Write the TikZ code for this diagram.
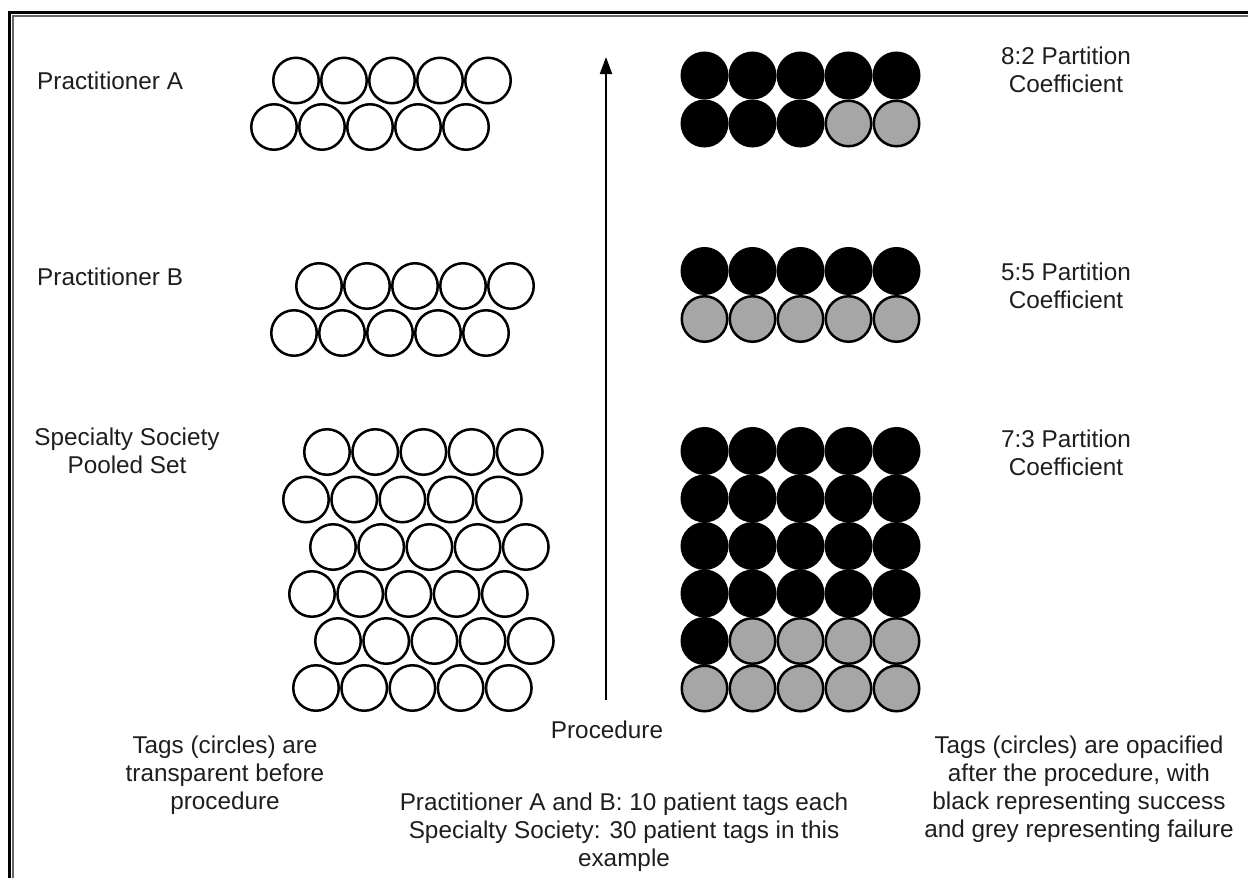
\documentclass[tikz,border=0pt]{standalone}
\usepackage{fontspec}
\setmainfont{Liberation Sans}
\usetikzlibrary{arrows.meta}
\definecolor{failgrey}{HTML}{A6A6A6}
\definecolor{inkgrey}{HTML}{1E1E1E}
\begin{document}
\begin{tikzpicture}[x=1pt,y=-1pt,
  tag/.style={circle,draw=black,line width=2.5pt,minimum size=45.5pt,inner sep=0pt,fill=white},
  succ/.style={tag,fill=black},
  fail/.style={tag,fill=failgrey},
  lbl/.style={font=\fontsize{24.3}{28}\selectfont,text=inkgrey,align=center,inner sep=0pt,anchor=base},
  lblleft/.style={lbl,anchor=base west}
]
\fill[white] (0,0) rectangle (1248,878);
\useasboundingbox (0,0) rectangle (1248,878);
% frame
\draw[line width=3pt] (9.5,878) -- (9.5,12.5) -- (1248,12.5);
\draw[line width=1.5pt,black!60] (13,878) -- (13,16) -- (1248,16);

% Practitioner A (transparent)
\foreach \c in {1,...,5} {
  \node[tag] (Aa\c) at ({296+48*(\c-1)},80.5) {};
  \node[tag] (Ab\c) at ({274+48*(\c-1)},127) {};
}
% Practitioner B (transparent)
\foreach \c in {1,...,5} {
  \node[tag] (Ba\c) at ({319+48*(\c-1)},286) {};
  \node[tag] (Bb\c) at ({294+48*(\c-1)},333) {};
}
% Specialty society (transparent)
\foreach \r/\xo/\yo in {1/327/452,2/306/499.5,3/333/547,4/312/594,5/338/641,6/316/688} {
  \foreach \c in {1,...,5} {
    \node[tag] (S\r\c) at ({\xo+48.2*(\c-1)},\yo) {};
  }
}
% 8:2 opacified
\foreach \r/\yo in {1/75.5,2/123.5} {
  \foreach \c in {1,...,5} {
    \pgfmathtruncatemacro\k{(\r-1)*5+\c}
    \ifnum\k>8 \def\st{fail}\else\def\st{succ}\fi
    \node[\st] (OA\r\c) at ({704.5+48*(\c-1)},\yo) {};
  }
}
% 5:5 opacified
\foreach \r/\yo in {1/271,2/319} {
  \foreach \c in {1,...,5} {
    \pgfmathtruncatemacro\k{(\r-1)*5+\c}
    \ifnum\k>5 \def\st{fail}\else\def\st{succ}\fi
    \node[\st] (OB\r\c) at ({704.5+48*(\c-1)},\yo) {};
  }
}
% 7:3 opacified
\foreach \r/\yo in {1/451,2/498.5,3/546,4/593.5,5/641,6/688.5} {
  \foreach \c in {1,...,5} {
    \pgfmathtruncatemacro\k{(\r-1)*5+\c}
    \ifnum\k>21 \def\st{fail}\else\def\st{succ}\fi
    \node[\st] (OS\r\c) at ({704.5+48*(\c-1)},\yo) {};
  }
}

% procedure arrow
\coordinate (procBottom) at (606,700);
\coordinate (procTop) at (606,57);
\draw[line width=2pt,-{Triangle[width=12pt,length=17pt]}] (procBottom) -- (procTop);

% labels (base anchor = baseline of the last line)
\node[lblleft] (labA) at (37,89) {Practitioner A};
\node[lblleft] (labB) at (37,285) {Practitioner B};
\node[lbl] (labS) at (127,473) {Specialty Society\\Pooled Set};
\node[lbl] (pcA) at (1066,92) {8:2 Partition\\Coefficient};
\node[lbl] (pcB) at (1066,308) {5:5 Partition\\Coefficient};
\node[lbl] (pcS) at (1066,475) {7:3 Partition\\Coefficient};
\node[lbl] (proc) at (607,738) {Procedure};
\node[lbl] (noteL) at (225,809) {Tags (circles) are\\transparent before\\procedure};
\node[lbl] (noteM) at (624,866) {Practitioner A and B: 10 patient tags each\\Specialty Society: 30 patient tags in this\\example};
\node[lbl] (noteR) at (1079,837) {Tags (circles) are opacified\\after the procedure, with\\black representing success\\and grey representing failure};
\end{tikzpicture}
\end{document}
